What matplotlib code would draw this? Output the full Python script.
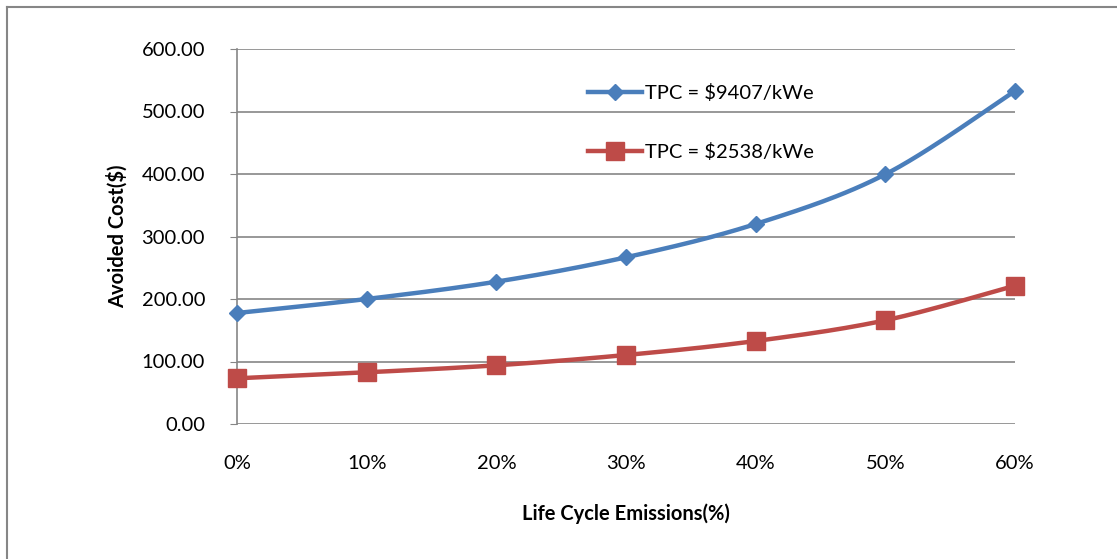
import numpy as np
import matplotlib
matplotlib.use("Agg")
import matplotlib.pyplot as plt
from matplotlib.lines import Line2D

categories = ["0%", "10%", "20%", "30%", "40%", "50%", "60%"]
blue_values = [177.6, 200.0, 227.7, 266.7, 320.0, 399.5, 532.8]
red_values = [73.1, 82.7, 93.9, 110.4, 132.8, 165.9, 221.3]
blue_label = "TPC = $9407/kWe"
red_label = "TPC = $2538/kWe"
y_ticks = [0, 100, 200, 300, 400, 500, 600]

plt.rcParams['font.family'] = ['Lato', 'DejaVu Sans']

W, H = 1117, 559
fig = plt.figure(figsize=(W / 100, H / 100), dpi=100)

left, right, top, bottom = 237, 1015, 49, 424
ax = fig.add_axes([left / W, 1 - bottom / H, (right - left) / W, (bottom - top) / H])


def smooth(xs, ys, n=30):
    xs = np.asarray(xs, float)
    ys = np.asarray(ys, float)
    px, py = [], []
    for i in range(len(xs) - 1):
        i0 = max(i - 1, 0)
        i3 = min(i + 2, len(xs) - 1)
        p0 = np.array([xs[i0], ys[i0]])
        p1 = np.array([xs[i], ys[i]])
        p2 = np.array([xs[i + 1], ys[i + 1]])
        p3 = np.array([xs[i3], ys[i3]])
        c1 = p1 + (p2 - p0) / 6.0
        c2 = p2 - (p3 - p1) / 6.0
        t = np.linspace(0, 1, n)[:, None]
        pts = ((1 - t) ** 3) * p1 + 3 * ((1 - t) ** 2) * t * c1 + 3 * (1 - t) * t ** 2 * c2 + t ** 3 * p2
        px.extend(pts[:, 0])
        py.extend(pts[:, 1])
    return np.array(px), np.array(py)


x = np.arange(len(categories))
blue_c = "#4A7EBB"
red_c = "#BE4B48"
fs = 14.5

for vals, col, mk, ms in [(blue_values, blue_c, "D", 8),
                          (red_values, red_c, "s", 13)]:
    sx, sy = smooth(x, vals)
    ax.plot(sx, sy, color=col, lw=3.2, solid_capstyle="round", zorder=3, clip_on=False)
    ax.plot(x, vals, linestyle="none", marker=mk, ms=ms, color=col, zorder=4, clip_on=False)

handles = [Line2D([0], [0], color=blue_c, lw=3.2, marker="D", ms=8),
           Line2D([0], [0], color=red_c, lw=3.2, marker="s", ms=13)]
ax.legend(handles, [blue_label, red_label], loc="upper left",
          bbox_to_anchor=((588 - left) / (right - left), 1 - (84 - top) / (bottom - top)),
          frameon=False, fontsize=fs, labelspacing=2.05, handlelength=2.7,
          handletextpad=0.15, borderpad=0, borderaxespad=0)

ax.set_xlim(0, len(categories) - 1)
ax.set_ylim(0, 600)
ax.set_xticks(x)
ax.set_xticklabels(categories)
ax.set_yticks(y_ticks)
ax.set_yticklabels([f"{v:.2f}" for v in y_ticks])
ax.tick_params(axis="x", length=0, pad=22, labelsize=fs)
ax.tick_params(axis="y", length=5, color="#868686", pad=18, labelsize=fs)
ax.grid(axis="y", color="#868686", lw=1.2)
ax.set_axisbelow(True)
for s in ["top", "right", "bottom"]:
    ax.spines[s].set_visible(False)
ax.spines["left"].set_color("#868686")
ax.spines["left"].set_linewidth(1.2)

ax.set_xlabel("Life Cycle Emissions(%)", fontsize=fs, fontweight="bold", labelpad=23)
ax.set_ylabel("Avoided Cost($)", fontsize=fs, fontweight="bold", labelpad=10)

# outer chart frame
fig.add_artist(Line2D([7 / W, 1.0], [1 - 7 / H, 1 - 7 / H], transform=fig.transFigure, color="#868686", lw=1.5))
fig.add_artist(Line2D([7 / W, 7 / W], [0, 1 - 7 / H], transform=fig.transFigure, color="#868686", lw=1.5))

fig.savefig("out.png", dpi=100)
